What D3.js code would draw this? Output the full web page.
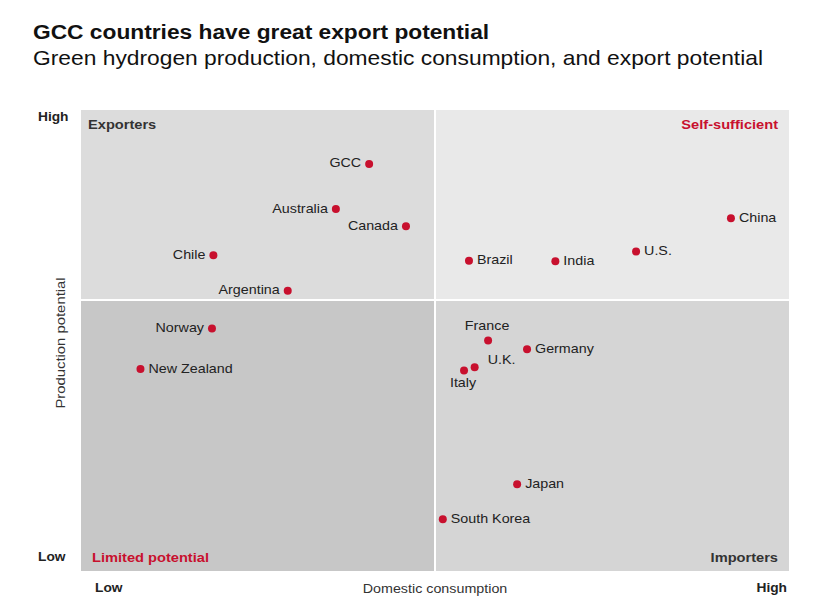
<!DOCTYPE html>
<html>
<head>
<meta charset="utf-8">
<script src="https://cdn.jsdelivr.net/npm/d3@7"></script>
<style>
  body { margin: 0; background: #fff; }
  text { font-family: "Liberation Sans", Arial, sans-serif; }
</style>
</head>
<body>
<div id="wrapper"></div>
<script>
// country positions on a 0-100 scale
const countries = ["GCC", "Australia", "Canada", "Chile", "Argentina", "Norway", "New Zealand",
    "Brazil", "India", "U.S.", "China", "France", "Germany", "U.K.", "Italy", "Japan", "South Korea"];
const consumption = [40.7, 36.0, 45.9, 18.7, 29.2, 18.5, 8.4,
    54.8, 67.0, 78.4, 91.8, 57.5, 63.0, 55.6, 54.1, 61.6, 51.1];
const production = [88.3, 78.5, 74.8, 68.5, 60.8, 52.6, 43.8,
    67.3, 67.2, 69.3, 76.5, 50.0, 48.1, 44.2, 43.5, 18.8, 11.2];
const quadrantNames = ["Exporters", "Self-sufficient", "Limited potential", "Importers"];
const axisEnds = ["Low", "High"];
const xSplit = 50;
const ySplit = 58.8;

const data = countries.map((c, i) => ({ name: c, x: consumption[i], y: production[i] }));

// where each label sits relative to its dot
const labelPlace = {
    "GCC": "left", "Australia": "left", "Canada": "left", "Chile": "left",
    "Argentina": "left", "Norway": "left", "France": "above", "Italy": "below",
    "U.K.": "upright"
};

const dimension = {
    width: 839,
    height: 600,
    margin: { top: 110, left: 81, bottom: 29, right: 50 }
};
dimension.boundedWidth = dimension.width - dimension.margin.left - dimension.margin.right;
dimension.boundedHeight = dimension.height - dimension.margin.top - dimension.margin.bottom;

const red = "#c8102e";
const ink = "#222";
const stretch = 1.1; // the reference type is a bit wide

const svg = d3.select("#wrapper").append("svg")
    .attr("width", dimension.width)
    .attr("height", dimension.height);

// text placed through a transform so it can be widened
function addText(parent, txt, x, y, size, opts = {}) {
    return parent.append("text")
        .attr("transform", `translate(${x},${y}) scale(${opts.sx || stretch},1)`)
        .attr("font-size", size)
        .attr("font-weight", opts.bold ? "bold" : null)
        .attr("fill", opts.color || ink)
        .attr("text-anchor", opts.anchor || "start")
        .attr("dominant-baseline", opts.baseline || "middle")
        .text(txt);
}

addText(svg, "GCC countries have great export potential", 33, 39, 20.5,
    { bold: true, color: "#111", sx: 1.11, baseline: "alphabetic" });
addText(svg, "Green hydrogen production, domestic consumption, and export potential", 33, 65, 20.5,
    { color: "#111", sx: 1.113, baseline: "alphabetic" });

const xScaler = d3.scaleLinear().domain([0, 100]).range([0, dimension.boundedWidth]);
const yScaler = d3.scaleLinear().domain([0, 100]).range([dimension.boundedHeight, 0]);

const bounded = svg.append("g")
    .attr("transform", `translate(${dimension.margin.left},${dimension.margin.top})`);

// quadrants
const quads = [
    { x0: 0, x1: xSplit, y0: ySplit, y1: 100, fill: "#dcdcdc" },
    { x0: xSplit, x1: 100, y0: ySplit, y1: 100, fill: "#e9e9e9" },
    { x0: 0, x1: xSplit, y0: 0, y1: ySplit, fill: "#c7c7c7" },
    { x0: xSplit, x1: 100, y0: 0, y1: ySplit, fill: "#d5d5d5" }
];
bounded.selectAll("rect.quad").data(quads).join("rect")
    .attr("class", "quad")
    .attr("x", d => xScaler(d.x0))
    .attr("y", d => yScaler(d.y1))
    .attr("width", d => xScaler(d.x1) - xScaler(d.x0))
    .attr("height", d => yScaler(d.y0) - yScaler(d.y1))
    .attr("fill", d => d.fill);

bounded.append("line")
    .attr("x1", xScaler(xSplit)).attr("x2", xScaler(xSplit))
    .attr("y1", 0).attr("y2", dimension.boundedHeight)
    .attr("stroke", "#fff").attr("stroke-width", 2);
bounded.append("line")
    .attr("x1", 0).attr("x2", dimension.boundedWidth)
    .attr("y1", yScaler(ySplit)).attr("y2", yScaler(ySplit))
    .attr("stroke", "#fff").attr("stroke-width", 2);

// quadrant names
addText(bounded, quadrantNames[0], 7, 15, 13.3, { bold: true, color: "#333" });
addText(bounded, quadrantNames[1], dimension.boundedWidth - 11, 15, 13.3, { bold: true, color: red, anchor: "end" });
addText(bounded, quadrantNames[2], 11, dimension.boundedHeight - 13, 13.3, { bold: true, color: red });
addText(bounded, quadrantNames[3], dimension.boundedWidth - 11, dimension.boundedHeight - 13, 13.3,
    { bold: true, color: "#333", anchor: "end" });

// axis end labels
addText(svg, axisEnds[1], 38, 118, 12.5, { bold: true });
addText(svg, axisEnds[0], 38, 558, 12.5, { bold: true });
addText(svg, axisEnds[0], 95, 589, 12.5, { bold: true });
addText(svg, axisEnds[1], 787, 589, 12.5, { bold: true, anchor: "end" });
addText(svg, "Domestic consumption", 435, 590, 13, { color: "#333", anchor: "middle" });
svg.append("text")
    .attr("transform", "translate(61,343) rotate(-90) scale(1.1,1)")
    .attr("font-size", 13.5).attr("text-anchor", "middle")
    .attr("fill", "#333").attr("dominant-baseline", "middle")
    .text("Production potential");

// dots
bounded.selectAll("circle").data(data).join("circle")
    .attr("cx", d => xScaler(d.x))
    .attr("cy", d => yScaler(d.y))
    .attr("r", 4)
    .attr("fill", red);

// labels
const labelX = d => {
    const p = labelPlace[d.name];
    if (p === "left") return xScaler(d.x) - 8;
    if (p === "above" || p === "below") return xScaler(d.x) - 1;
    if (p === "upright") return xScaler(d.x) + 13;
    return xScaler(d.x) + 8;
};
const labelY = d => {
    const p = labelPlace[d.name];
    if (p === "above") return yScaler(d.y) - 14;
    if (p === "below") return yScaler(d.y) + 13;
    if (p === "upright") return yScaler(d.y) - 7;
    return yScaler(d.y);
};
bounded.selectAll("text.lbl").data(data).join("text")
    .attr("class", "lbl")
    .attr("font-size", 13)
    .attr("fill", ink)
    .attr("dominant-baseline", "middle")
    .attr("transform", d => `translate(${labelX(d)},${labelY(d)}) scale(${stretch},1)`)
    .attr("text-anchor", d => {
        const p = labelPlace[d.name];
        if (p === "left") return "end";
        if (p === "above" || p === "below") return "middle";
        return "start";
    })
    .text(d => d.name);
</script>
</body>
</html>
